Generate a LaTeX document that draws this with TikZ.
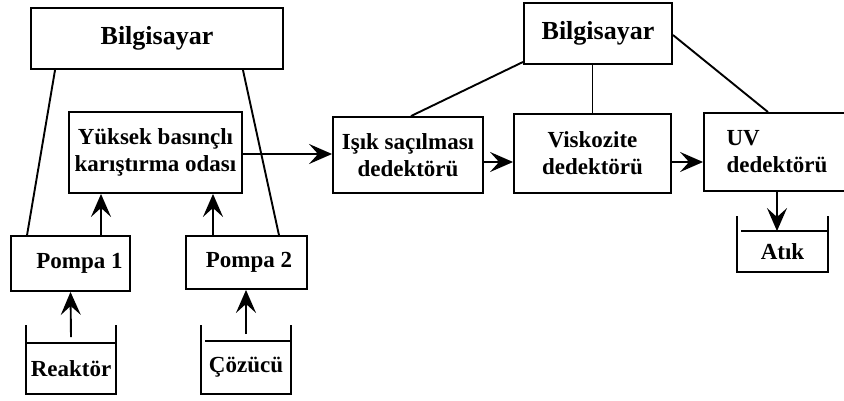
\documentclass[tikz,border=0pt]{standalone}
\usepackage{fontspec}
\setmainfont{Liberation Serif}
\usetikzlibrary{arrows.meta}

\begin{document}
\begin{tikzpicture}[x=1pt, y=-1pt, line width=1.9pt,
    >={Stealth[length=23pt, width=20pt, inset=9pt]}]
  % definition of the basic styles.
  \tikzstyle{unit}=[draw, rectangle, inner sep=0pt, align=center,
    font=\bfseries\fontsize{23}{27}\selectfont]
  \tikzstyle{tank}=[rectangle, inner sep=0pt,
    font=\bfseries\fontsize{23}{27}\selectfont]
  \useasboundingbox (0,0) rectangle (844,401);

  % The two computers
  \node[unit, minimum width=252pt, minimum height=61pt,
    font=\bfseries\fontsize{26}{30}\selectfont] (bil1) at (157,38.5) {Bilgisayar};
  \node[unit, minimum width=148pt, minimum height=61pt,
    font=\bfseries\fontsize{26}{30}\selectfont] (bil2) at (598,33.5) {Bilgisayar};

  % mixing chamber and pumps
  \node[unit, minimum width=173pt, minimum height=81pt] (mix) at (155.5,152.5)
    {Yüksek basınçlı\\karıştırma odası};
  \node[unit, minimum width=119pt, minimum height=55pt] (pompa1) at (70.5,263.5)
    {\hspace*{18pt}Pompa 1};
  \node[unit, minimum width=121pt, minimum height=53pt] (pompa2) at (246.5,262.5)
    {\hspace*{5pt}Pompa 2};

  % detectors
  \node[unit, minimum width=150pt, minimum height=76pt] (isik) at (408,155)
    {Işık saçılması\\dedektörü};
  \node[unit, minimum width=157pt, minimum height=79pt] (visk) at (592.5,153.5)
    {Viskozite\\dedektörü};
  \node[unit, minimum width=146pt, minimum height=78pt, align=left] (uv) at (777,152)
    {UV\\dedektörü};

  % the tanks (node = liquid part, walls drawn above it)
  \node[tank, minimum width=88pt, minimum height=49pt] (reaktor) at (71,368.5) {Reaktör};
  \node[tank, minimum width=88pt, minimum height=51pt] (cozucu) at (246,367.5) {Çözücü};
  \node[tank, minimum width=89pt, minimum height=39pt] (atik) at (782.5,251.5) {Atık};
  \draw ([yshift=18pt]reaktor.north west) |- (reaktor.south east)
    -- ([yshift=18pt]reaktor.north east);
  \draw (reaktor.north west) -- (reaktor.north east);
  \draw ([yshift=16pt]cozucu.north west) |- (cozucu.south east)
    -- ([yshift=16pt]cozucu.north east);
  \draw ([xshift=4pt]cozucu.north west) -- (cozucu.north east);
  \draw ([yshift=15pt]atik.north west) |- (atik.south east)
    -- ([yshift=15pt]atik.north east);
  \draw ([xshift=4pt]atik.north west) -- (atik.north east);

  % computer wires
  \draw ([xshift=25pt]bil1.south west) -- ([xshift=17pt]pompa1.north west);
  \draw ([xshift=-41pt]bil1.south east) -- ([xshift=-29pt]pompa2.north east);
  \draw ([yshift=3pt]bil2.south west) -- ([xshift=3pt]isik.north);
  \draw (bil2.south -| visk.north) -- (visk.north);
  \draw ([yshift=-1.5pt]bil2.east) -- ([xshift=-9pt]uv.north);

  % flow arrows
  \draw[->] ([yshift=6pt]reaktor.north) -- (pompa1.south);
  \draw[->] ([yshift=7pt]cozucu.north) -- (cozucu.north |- pompa2.south);
  \draw[->] ([xshift=30.5pt]pompa1.north) -- ([xshift=30.5pt]pompa1.north |- mix.south);
  \draw[->] ([xshift=-33.5pt]pompa2.north) -- ([xshift=-33.5pt]pompa2.north |- mix.south);
  \draw[->] ([yshift=-1.5pt]mix.east) -- ([yshift=-1.5pt]mix.east -| isik.west);
  \draw[->] ([yshift=-7pt]isik.east) -- ([yshift=-7pt]isik.east -| visk.west);
  \draw[->] ([yshift=-8.5pt]visk.east) -- ([yshift=-8.5pt]visk.east -| uv.west);
  \draw[->] (uv.south) -- (uv.south |- atik.north);
\end{tikzpicture}
\end{document}
